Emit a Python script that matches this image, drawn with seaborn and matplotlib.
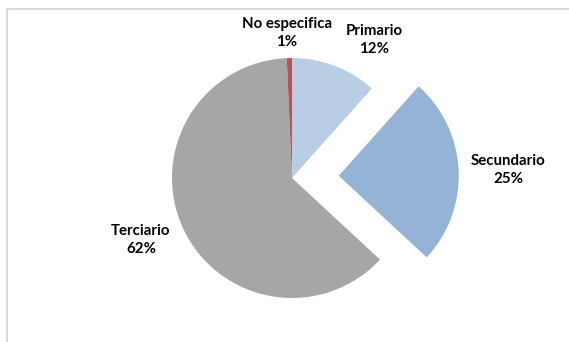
import matplotlib
matplotlib.use("Agg")
import matplotlib.pyplot as plt
import seaborn as sns
from matplotlib.lines import Line2D

# ---- data ----
categories = ["Primario", "Secundario", "Terciario", "No especifica"]
values = [11.6, 25.3, 62.4, 0.7]
colors = ["#B9CDE5", "#95B3D7", "#A6A6A6", "#C0504D"]
explode_frac = [0, 0.39, 0, 0]

# label anchor positions (pixels, top-left origin)
label_pos = [(374, 40), (508, 170), (141, 240), (287, 33)]

sns.set_style("white")
plt.rcParams["font.family"] = ["Lato", "DejaVu Sans"]

W, H = 569, 342
fig = plt.figure(figsize=(W / 100, H / 100), dpi=100)
ax = fig.add_axes([0, 0, 1, 1])

cx, cy, r = 292, H - 178, 120
ax.pie(values, colors=colors, explode=[e * r for e in explode_frac],
       startangle=90, counterclock=False,
       center=(cx, cy), radius=r, frame=True,
       wedgeprops=dict(linewidth=0))
ax.set_xlim(0, W)
ax.set_ylim(0, H)
ax.set_aspect("equal")
ax.axis("off")

total = sum(values)
for cat, v, (px, py) in zip(categories, values, label_pos):
    pct = int(v / total * 100 + 0.5)
    ax.text(px, H - py, f"{cat}\n{pct}%", ha="center", va="center",
            fontsize=10.8, fontweight="bold", color="#000000", linespacing=1.3)

# chart-area border (top and left visible)
fig.add_artist(Line2D([7 / W, 1], [1 - 9 / H, 1 - 9 / H], transform=fig.transFigure,
                      color="#D9D9D9", linewidth=1.5))
fig.add_artist(Line2D([7 / W, 7 / W], [0, 1 - 9 / H], transform=fig.transFigure,
                      color="#D9D9D9", linewidth=1.5))

fig.savefig("out.png", dpi=100, facecolor="white")
